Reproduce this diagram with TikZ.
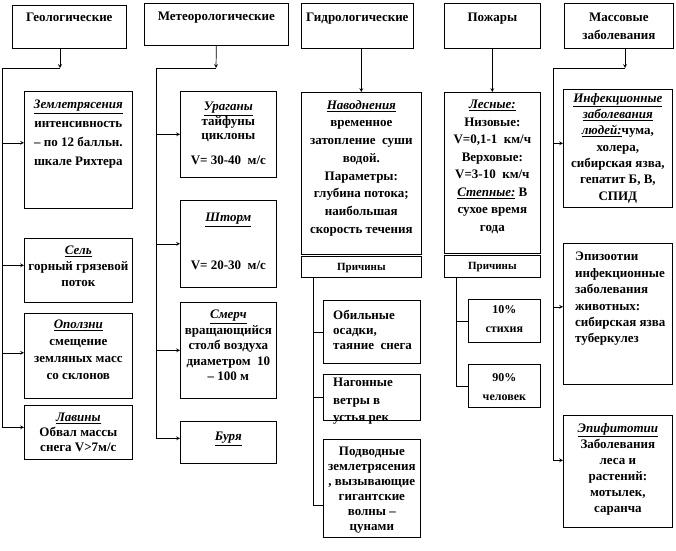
\documentclass[tikz,border=0pt]{standalone}
\usepackage{fontspec}
\setmainfont{Liberation Serif}
\usepackage{tikz}
\usetikzlibrary{positioning}
\newcommand{\uital}[1]{\underline{\textit{#1}}}

\begin{document}
\begin{tikzpicture}[
    x=1pt, y=-1pt,
    box/.style={rectangle, draw, line width=0.7pt, anchor=north west, inner sep=0pt},
    txt/.style={inner sep=0pt, align=center, font=\bfseries\fontsize{13}{#1}\selectfont},
    txt/.default=17,
    small/.style={inner sep=0pt, align=center, font=\bfseries\fontsize{12}{#1}\selectfont},
    small/.default=19,
    arrow/.style={->, >=stealth, line width=0.7pt},
    link/.style={line width=0.7pt}
]
\useasboundingbox (0,0) rectangle (676,550);

% Headers
\node[box, minimum width=114pt, minimum height=43pt] (geo) at (12,5) {};
\node[txt, below=8pt of geo.north] (geoT) {Геологические};
\node[box, minimum width=144pt, minimum height=42pt] (met) at (144,3) {};
\node[txt, below=9pt of met.north] (metT) {Метеорологические};
\node[box, minimum width=112pt, minimum height=45pt] (hyd) at (301,3) {};
\node[txt, below=10pt of hyd.north] (hydT) {Гидрологические};
\node[box, minimum width=96pt, minimum height=45pt] (fire) at (444,3) {};
\node[txt, below=10pt of fire.north] (fireT) {Пожары};
\node[box, minimum width=109pt, minimum height=45pt] (mass) at (564,3) {};
\node[txt=18, below=10pt of mass.north] (massT) {Массовые\\заболевания};

% Geological
\node[box, minimum width=108pt, minimum height=117pt] (quake) at (24,91) {};
\node[txt=19, below=9pt of quake.north] (quakeT) {\uital{Землетрясения}\\интенсивность\\– по 12 балльн.\\шкале Рихтера};
\node[box, minimum width=108pt, minimum height=64pt] (mudflow) at (24,238) {};
\node[txt=16, below=8pt of mudflow.north] (mudflowT) {\uital{Сель}\\горный грязевой\\поток};
\node[box, minimum width=108pt, minimum height=85pt] (slide) at (24,313) {};
\node[txt=17, below=7pt of slide.north] (slideT) {\uital{Оползни}\\смещение\\земляных масс\\со склонов};
\node[box, minimum width=108pt, minimum height=54pt] (avalanche) at (24,405) {};
\node[txt=15, below=8pt of avalanche.north] (avalancheT) {\uital{Лавины}\\Обвал массы\\снега V>7м/с};

% Meteorological
\node[box, minimum width=96pt, minimum height=86pt] (hurricane) at (180,91) {};
\node[txt=14.5, below=11pt of hurricane.north] (hurricaneT) {\uital{Ураганы}\\тайфуны\\циклоны\\[10.5pt]V= 30-40~~м/с};
\node[box, minimum width=96pt, minimum height=87pt] (storm) at (180,200) {};
\node[txt=16, below=13pt of storm.north] (stormT) {\uital{Шторм}\\[32pt]V= 20-30~~м/с};
\node[box, minimum width=96pt, minimum height=96pt] (tornado) at (180,302) {};
\node[txt=15.5, below=8pt of tornado.north] (tornadoT) {\uital{Смерч}\\вращающийся\\столб воздуха\\диаметром~~10\\– 100 м};
\node[box, minimum width=96pt, minimum height=42pt] (tempest) at (180,421) {};
\node[txt, below=11pt of tempest.north] (tempestT) {\uital{Буря}};

% Hydrological
\node[box, minimum width=120pt, minimum height=162pt] (flood) at (301,92) {};
\node[txt=17.7, below=8pt of flood.north] (floodT) {\uital{Наводнения}\\временное\\затопление~~суши\\водой.\\Параметры:\\глубина потока;\\наибольшая\\скорость течения};
\node[box, minimum width=120pt, minimum height=21pt] (hydCause) at (301,256) {};
\node[small, font=\bfseries\fontsize{11}{13}\selectfont, below=7pt of hydCause.north] (hydCauseT) {Причины};
\node[box, minimum width=97pt, minimum height=63pt] (rain) at (323,300) {};
\node[txt=15, align=left, below right=10pt and 10pt of rain.north west] (rainT) {Обильные\\осадки,\\таяние~~снега};
\node[box, minimum width=97pt, minimum height=46pt] (surge) at (323,374) {};
\node[txt=17.5, align=left, below right=4pt and 10pt of surge.north west] (surgeT) {Нагонные\\ветры в\\устья рек};
\node[box, minimum width=97pt, minimum height=98pt] (tsunami) at (323,439) {};
\node[txt=15, below=8pt of tsunami.north] (tsunamiT) {Подводные\\землетрясения\\, вызывающие\\гигантские\\волны –\\цунами};

% Fires
\node[box, minimum width=96pt, minimum height=161pt] (forest) at (444,92) {};
\node[txt=17.5, below=8pt of forest.north] (forestT) {\uital{Лесные:}\\Низовые:\\V=0,1-1~~км/ч\\Верховые:\\V=3-10~~км/ч\\\uital{Степные:} В\\сухое время\\года};
\node[box, minimum width=96pt, minimum height=22pt] (fireCause) at (444,255) {};
\node[small, font=\bfseries\fontsize{11}{13}\selectfont, below=7pt of fireCause.north] (fireCauseT) {Причины};
\node[box, minimum width=72pt, minimum height=43pt] (nature) at (468,299) {};
\node[small, below=6pt of nature.north] (natureT) {10\%\\стихия};
\node[box, minimum width=72pt, minimum height=43pt] (human) at (468,364) {};
\node[small, below=9pt of human.north] (humanT) {90\%\\человек};

% Mass diseases
\node[box, minimum width=109pt, minimum height=118pt] (infect) at (563,89) {};
\node[txt=16.3, below=4pt of infect.north] (infectT) {\uital{Инфекционные}\\\uital{заболевания}\\\uital{людей:}чума,\\холера,\\сибирская язва,\\гепатит Б, В,\\СПИД};
\node[box, minimum width=109pt, minimum height=141pt] (epizoo) at (563,243) {};
\node[txt=16.4, align=left, below right=9pt and 12pt of epizoo.north west] (epizooT) {Эпизоотии\\инфекционные\\заболевания\\животных:\\сибирская язва\\туберкулез};
\node[box, minimum width=109pt, minimum height=112pt] (epiphyt) at (563,415) {};
\node[txt=16, below=8pt of epiphyt.north] (epiphytT) {\uital{Эпифитотии}\\Заболевания\\леса и\\растений:\\мотылек,\\саранча};

% Entry points of the branches
\coordinate[yshift=7pt] (quakeIn) at (quake.west);
\coordinate[yshift=5pt] (mudflowIn) at (mudflow.west);
\coordinate[yshift=3pt] (slideIn) at (slide.west);
\coordinate[yshift=5pt] (avalancheIn) at (avalanche.west);
\coordinate[yshift=4pt] (tempestIn) at (tempest.west);
\coordinate[yshift=5pt] (infectIn) at (infect.west);
\coordinate[yshift=7pt] (epizooIn) at (epizoo.west);
\coordinate[yshift=11pt] (epiphytIn) at (epiphyt.west);

% Geological flows
\coordinate (geoJ) at (60,68);
\coordinate (geoBus) at (2,68);
\draw[arrow] (geo.south -| geoJ) -- (geoJ);
\draw[link] (geoJ) -- (geoBus) -- (geoBus |- avalancheIn);
\draw[arrow] (geoBus |- quakeIn) -- (quakeIn);
\draw[arrow] (geoBus |- mudflowIn) -- (mudflowIn);
\draw[arrow] (geoBus |- slideIn) -- (slideIn);
\draw[arrow] (geoBus |- avalancheIn) -- (avalancheIn);

% Meteorological flows
\coordinate (metJ) at (216,68);
\coordinate (metBus) at (156,68);
\draw[arrow] (met.south) -- (metJ);
\draw[link] (metJ) -- (metBus) -- (metBus |- tempestIn);
\draw[arrow] (metBus |- hurricane.west) -- (hurricane.west);
\draw[arrow] (metBus |- storm.west) -- (storm.west);
\draw[arrow] (metBus |- tornado.west) -- (tornado.west);
\draw[arrow] (metBus |- tempestIn) -- (tempestIn);

% Hydrological flows
\draw[arrow] (hyd.south -| flood.north) -- (flood.north);
\coordinate (hydBus) at (313,277);
\coordinate (hydEnd) at (313,505);
\draw[link] (hydBus) -- (hydEnd) -- (hydEnd -| tsunami.west);
\draw[link] (hydBus |- rain.west) -- (rain.west);
\draw[link] (hydBus |- surge.west) -- (surge.west);

% Fire flows
\draw[arrow] (fire.south) -- (forest.north);
\coordinate (fireBus) at (456,277);
\draw[link] (fireBus) -- (fireBus |- human.west) -- (human.west);
\draw[link] (fireBus |- nature.west) -- (nature.west);

% Mass disease flows
\coordinate (massJ) at (625,68);
\coordinate (massBus) at (553,68);
\draw[arrow] (mass.south -| massJ) -- (massJ);
\draw[link] (massJ) -- (massBus) -- (massBus |- epiphytIn);
\draw[arrow] (massBus |- infectIn) -- (infectIn);
\draw[arrow] (massBus |- epizooIn) -- (epizooIn);
\draw[arrow] (massBus |- epiphytIn) -- (epiphytIn);

\end{tikzpicture}
\end{document}
